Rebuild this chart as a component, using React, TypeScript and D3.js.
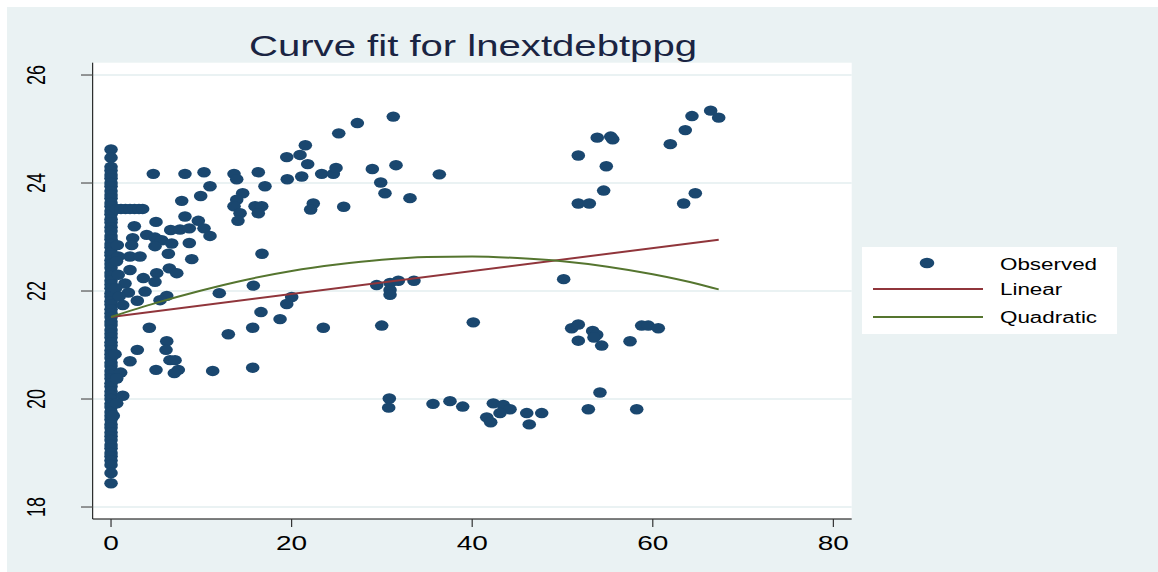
import React from "react";
import * as d3 from "d3";

// observed points off the x = 0 column: [x, y]
const observed: [number, number][] = [
  [4.68, 24.17], [8.19, 24.17], [10.3, 24.2], [13.62, 24.17], [13.92, 24.07], [16.31, 24.2],
  [19.46, 24.48], [20.93, 24.52], [21.52, 24.7], [21.78, 24.35], [19.52, 24.07], [21.12, 24.12],
  [23.33, 24.17], [17.05, 23.94], [10.96, 23.94], [9.93, 23.76], [7.83, 23.67], [14.58, 23.81],
  [13.92, 23.69], [13.62, 23.57], [14.29, 23.44], [14.06, 23.3], [15.95, 23.57], [16.69, 23.57],
  [16.31, 23.44], [22.4, 23.62], [22.11, 23.51], [16.72, 22.69], [4.98, 23.28], [2.58, 23.2],
  [8.19, 23.38], [9.67, 23.3], [10.3, 23.16], [10.96, 23.02], [2.4, 22.98], [2.29, 22.85],
  [3.95, 23.04], [4.87, 22.99], [5.61, 22.94], [6.61, 23.13], [7.64, 23.14], [8.67, 23.16],
  [4.87, 22.83], [6.72, 22.88], [6.35, 22.69], [8.67, 22.89], [8.94, 22.59], [2.1, 22.64],
  [3.21, 22.64], [0.81, 22.64], [2.1, 22.39], [3.58, 22.24], [5.06, 22.33], [6.46, 22.42],
  [7.28, 22.33], [4.87, 22.17], [1.55, 22.14], [3.77, 21.99], [1.92, 21.97], [6.17, 21.91],
  [11.99, 21.96], [15.76, 22.1], [20.01, 21.89],
  [0.6, 23.52], [1.1, 23.52], [1.6, 23.52], [2.1, 23.52], [2.6, 23.52], [3.1, 23.52], [3.5, 23.52],
  [0.7, 22.85], [0.6, 22.55], [0.8, 22.3], [0.5, 22.05], [0.9, 21.9],
  [5.43, 21.83], [2.91, 21.82], [1.3, 21.74], [19.46, 21.76], [16.61, 21.61], [18.72, 21.48],
  [23.51, 21.32], [15.69, 21.32], [12.99, 21.2], [4.24, 21.32], [6.17, 21.07], [6.09, 20.91],
  [2.91, 20.91], [2.1, 20.7], [6.53, 20.72], [7.09, 20.72], [4.98, 20.54], [7.45, 20.54],
  [7.01, 20.48], [11.26, 20.52], [15.69, 20.58], [0.44, 20.83], [1.07, 20.49], [0.63, 20.38],
  [1.3, 20.06], [0.63, 19.92], [0.25, 19.69],
  [31.26, 25.23], [27.28, 25.11], [25.22, 24.92], [24.62, 24.17], [24.92, 24.28], [28.94, 24.26],
  [31.56, 24.33], [36.36, 24.16], [29.87, 24.01], [30.34, 23.81], [33.11, 23.72], [25.77, 23.56],
  [29.42, 22.11], [30.9, 22.15], [31.82, 22.19], [33.55, 22.19], [30.9, 22.02], [30.9, 21.93],
  [29.98, 21.36], [40.12, 21.42], [50.13, 22.22], [51.02, 21.31], [51.75, 21.38], [51.75, 21.08],
  [51.75, 24.51], [51.75, 23.62], [30.82, 20.01], [30.75, 19.84], [35.66, 19.91], [37.54, 19.96],
  [38.95, 19.86], [41.61, 19.66], [42.05, 19.57], [42.34, 19.92], [43.44, 19.89], [44.19, 19.81],
  [43.08, 19.74], [46.04, 19.74], [47.7, 19.74], [46.32, 19.53],
  [66.41, 25.34], [67.3, 25.21], [64.34, 25.24], [63.6, 24.98], [61.94, 24.72], [53.85, 24.84],
  [55.34, 24.86], [55.56, 24.81], [54.85, 24.31], [54.56, 23.86], [52.97, 23.62], [63.42, 23.62],
  [64.71, 23.81], [53.34, 21.26], [53.79, 21.19], [53.49, 21.14], [54.34, 20.99], [57.48, 21.07],
  [58.77, 21.36], [59.5, 21.36], [60.61, 21.31], [54.15, 20.12], [52.86, 19.81], [58.22, 19.81],
];

// the dense column of observations at x = 0
const zeroColumn = [
  24.62, 24.47, 24.3, 24.23, 24.15, 24.09, 24.0, 23.94, 23.85, 23.78, 23.72, 23.63, 23.57, 23.48,
  23.42, 23.33, 23.27, 23.18, 23.11, 23.02, 22.96, 22.87, 22.81, 22.72, 22.66, 22.57, 22.5, 22.43,
  22.34, 22.28, 22.19, 22.12, 22.05, 21.96, 21.9, 21.81, 21.75, 21.66, 21.59, 21.52, 21.43, 21.37,
  21.28, 21.21, 21.14, 21.05, 20.99, 20.9, 20.83, 20.76, 20.67, 20.61, 20.52, 20.45, 20.38, 20.29,
  20.23, 20.14, 20.07, 20.0, 19.91, 19.85, 19.76, 19.69, 19.62, 19.53, 19.47, 19.38, 19.31, 19.24,
  19.15, 19.09, 19.0, 18.94, 18.86, 18.78, 18.63, 18.44,
];

const linearFit: [number, number][] = [[0, 21.52], [67.3, 22.95]];

const quadraticFit: [number, number][] = [
  [0, 21.52], [5, 21.78], [10, 22.01], [15, 22.21], [20, 22.37], [25, 22.49], [30, 22.58],
  [35, 22.63], [40, 22.64], [45, 22.61], [50, 22.55], [55, 22.45], [60, 22.31], [65, 22.13],
  [67.3, 22.03],
];

const xTicks = [0, 20, 40, 60, 80];
const yTicks = [18, 20, 22, 24, 26];

const W = 1158;
const H = 572;
const plot = { left: 92.7, right: 851.7, top: 62.7, bottom: 519 };

const navy = "#1a476f";
const maroon = "#90353b";
const green = "#55752f";
const bg = "#eaf2f3";
const font = "'Liberation Sans', Arial, sans-serif";

export default function App() {
  const x = d3.scaleLinear().domain([-2.03, 82.03]).range([plot.left, plot.right]);
  const y = d3.scaleLinear().domain([17.778, 26.228]).range([plot.bottom, plot.top]);

  const line = d3
    .line<[number, number]>()
    .x((d) => x(d[0]))
    .y((d) => y(d[1]))
    .curve(d3.curveMonotoneX);

  const points: [number, number][] = [
    ...zeroColumn.map((v) => [0, v] as [number, number]),
    ...observed,
  ];

  return (
    <svg
      width={W}
      height={H}
      style={{ position: "absolute", left: 0, top: 0, fontFamily: font }}
    >
      <rect width={W} height={H} fill="#ffffff" />
      <rect x={7} y={7} width={W - 7} height={H - 7} fill={bg} />
      <rect
        x={plot.left}
        y={plot.top}
        width={plot.right - plot.left}
        height={plot.bottom - plot.top}
        fill="#ffffff"
      />

      {yTicks.map((t) => (
        <line
          key={"g" + t}
          x1={plot.left}
          x2={plot.right}
          y1={y(t)}
          y2={y(t)}
          stroke={bg}
          strokeWidth={2}
        />
      ))}

      {/* axes */}
      <line x1={plot.left} x2={plot.left} y1={plot.top} y2={plot.bottom} stroke="#000" strokeWidth={1} />
      <line x1={plot.left} x2={plot.right} y1={plot.bottom} y2={plot.bottom} stroke="#000" strokeWidth={1} />

      {yTicks.map((t) => (
        <g key={"y" + t}>
          <line x1={81} x2={plot.left} y1={y(t)} y2={y(t)} stroke="#555" strokeWidth={1.2} />
          <text
            transform={`translate(44.5,${y(t)}) scale(1.4,1) rotate(-90)`}
            textAnchor="middle"
            fontSize={18}
            fill="#000"
          >
            {t}
          </text>
        </g>
      ))}

      {xTicks.map((t) => (
        <g key={"x" + t}>
          <line x1={x(t)} x2={x(t)} y1={plot.bottom} y2={plot.bottom + 8} stroke="#333" strokeWidth={1.2} />
          <text
            transform={`translate(${x(t)},549.5) scale(1.4,1)`}
            textAnchor="middle"
            fontSize={20}
            fill="#000"
          >
            {t}
          </text>
        </g>
      ))}

      {/* observed */}
      {points.map((d, i) => (
        <ellipse key={i} cx={x(d[0])} cy={y(d[1])} rx={6.8} ry={5.2} fill={navy} />
      ))}

      {/* fitted curves */}
      <path d={line(linearFit) ?? ""} fill="none" stroke={maroon} strokeWidth={2} />
      <path d={line(quadraticFit) ?? ""} fill="none" stroke={green} strokeWidth={2} />

      <text
        x={473}
        y={56}
        textAnchor="middle"
        fontSize={29}
        fill="#1a2442"
        textLength={448}
        lengthAdjust="spacingAndGlyphs"
      >
        Curve fit for lnextdebtppg
      </text>

      {/* legend */}
      <rect x={862} y={247} width={255} height={87} fill="#ffffff" />
      <ellipse cx={927} cy={263} rx={7.3} ry={5.2} fill={navy} />
      <line x1={873} x2={983} y1={289} y2={289} stroke={maroon} strokeWidth={2} />
      <line x1={873} x2={983} y1={317} y2={317} stroke={green} strokeWidth={2} />
      {[
        ["Observed", 270],
        ["Linear", 295],
        ["Quadratic", 322.5],
      ].map(([label, by]) => (
        <text
          key={label as string}
          transform={`translate(1000,${by}) scale(1.4,1)`}
          fontSize={16}
          fill="#000"
        >
          {label}
        </text>
      ))}
    </svg>
  );
}
